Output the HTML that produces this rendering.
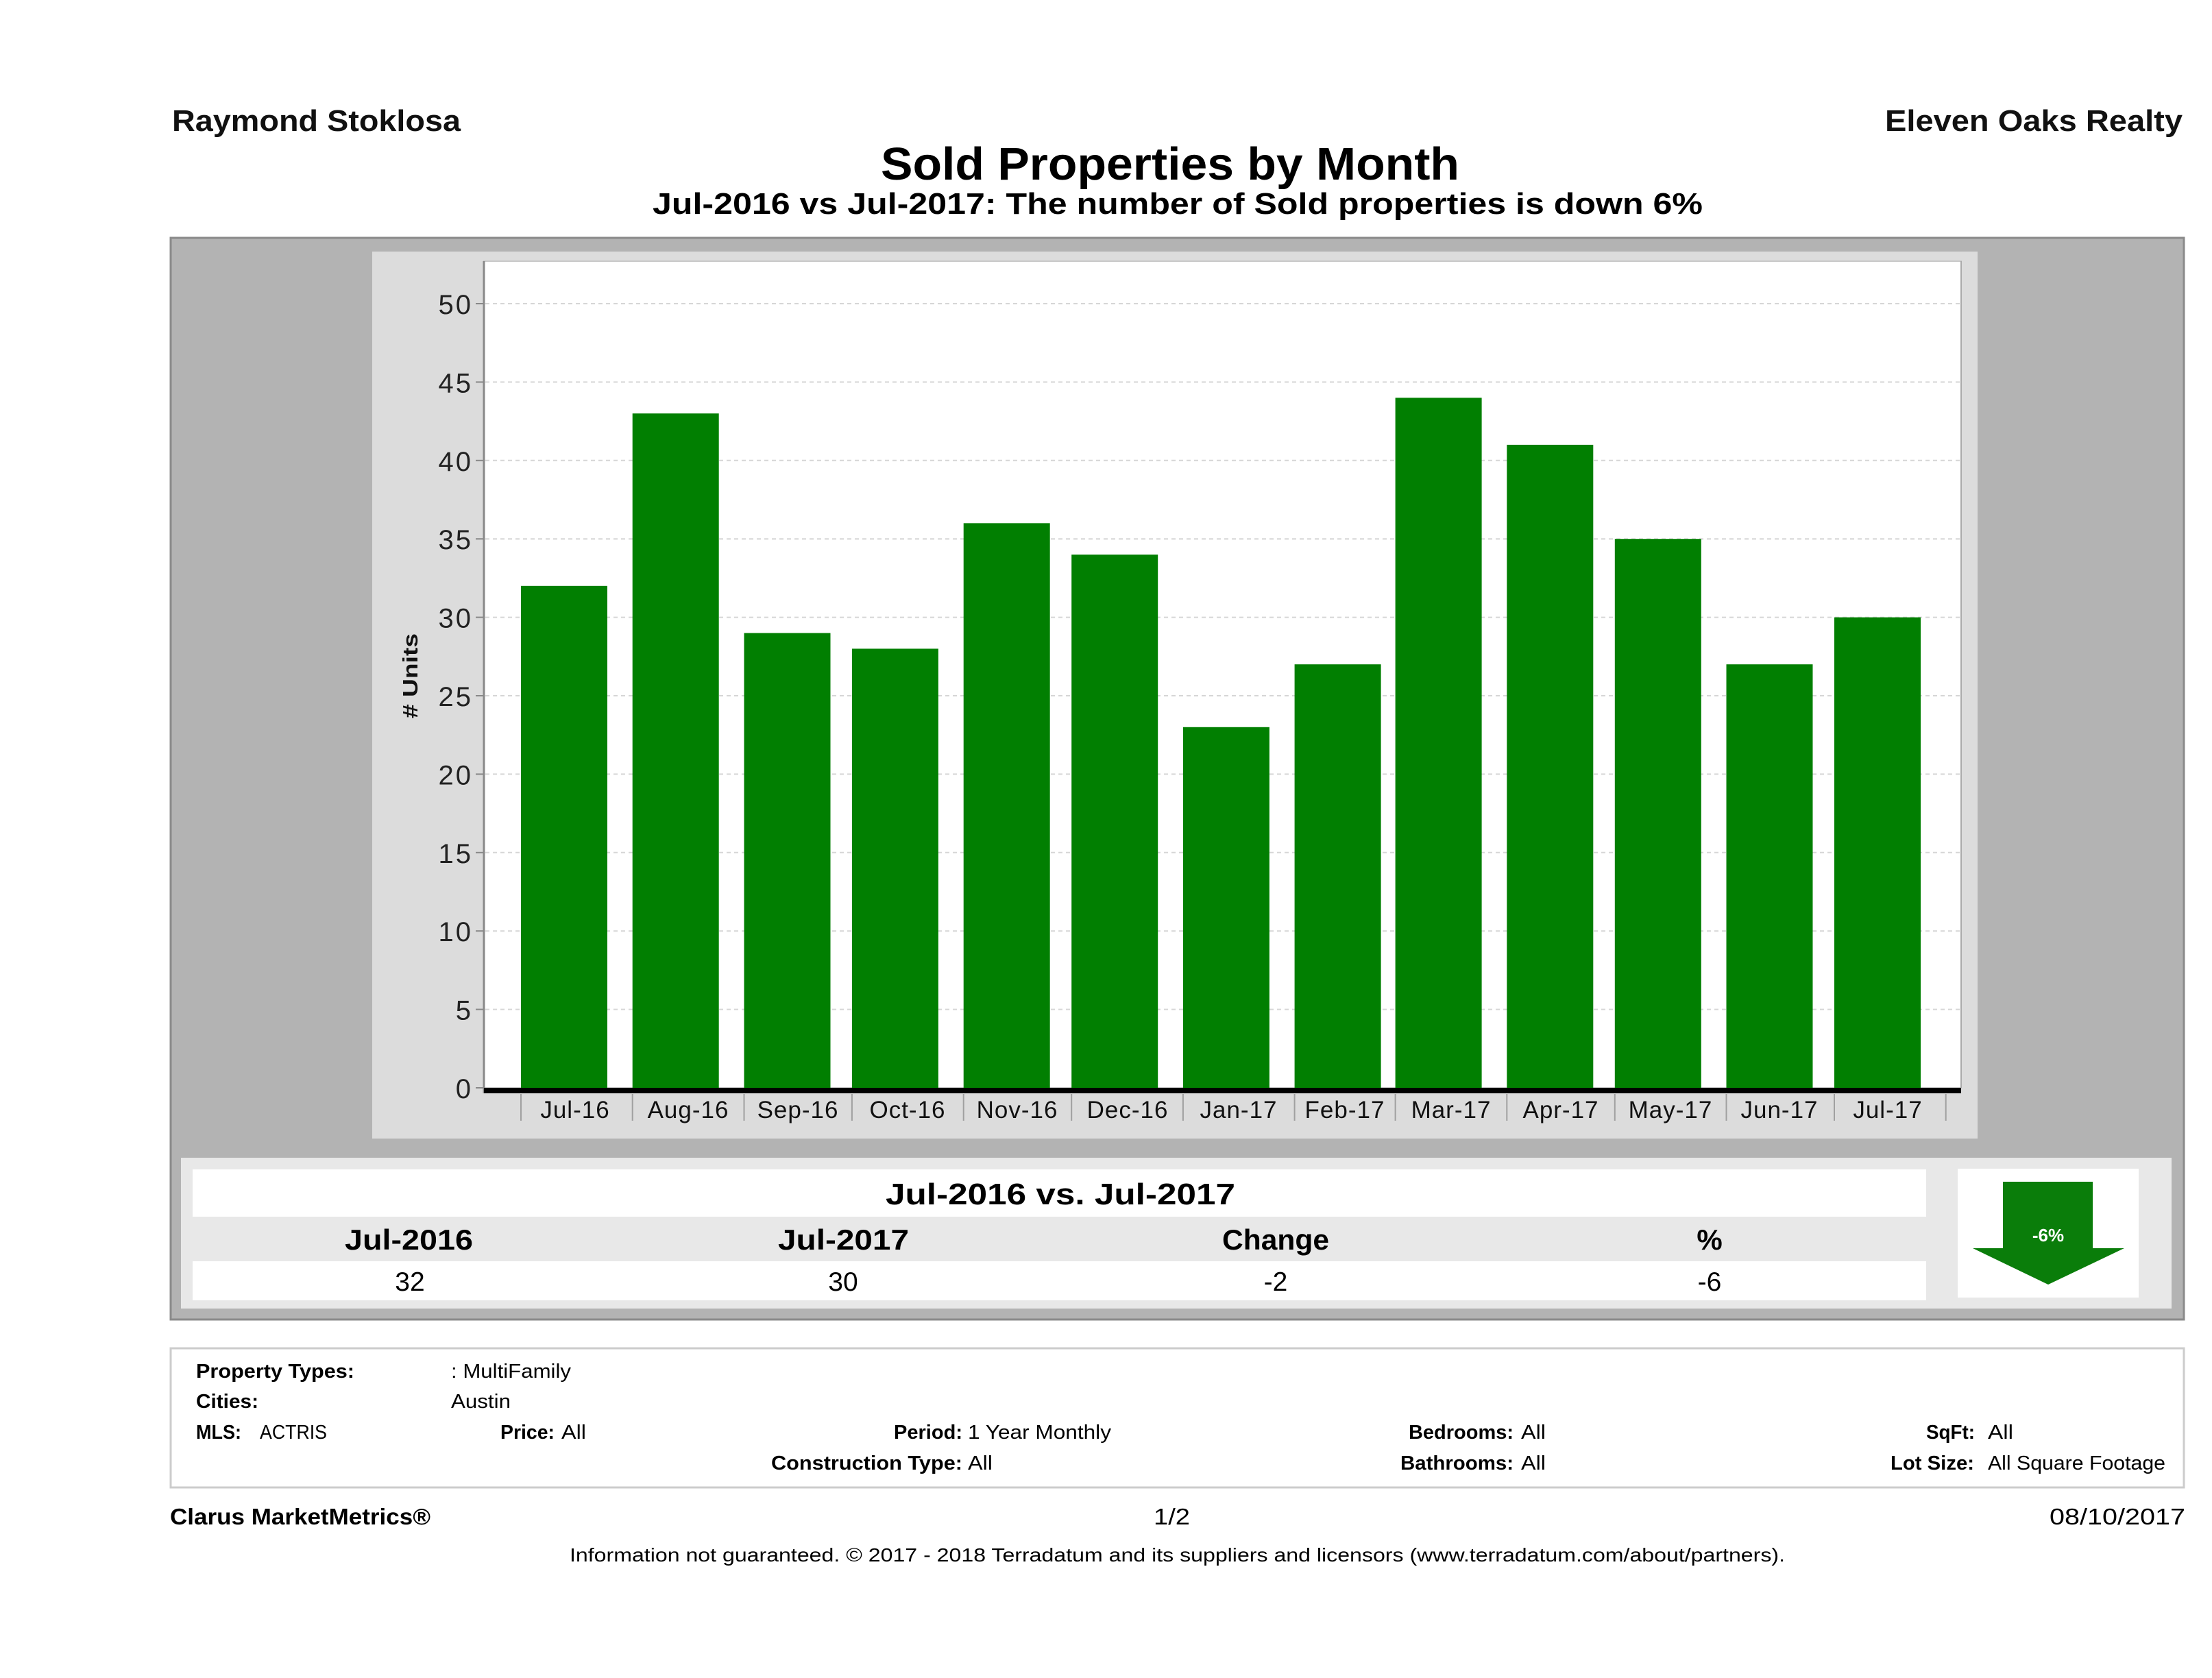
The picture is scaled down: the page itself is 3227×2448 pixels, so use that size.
<!DOCTYPE html>
<html>
<head>
<meta charset="utf-8">
<style>
html,body{margin:0;padding:0;background:#fff;}
svg{display:block;}
text{font-family:"Liberation Sans",Arial,sans-serif;}
</style>
</head>
<body>
<svg width="3227" height="2448" viewBox="0 0 3227 2448" xmlns="http://www.w3.org/2000/svg">
<rect x="0" y="0" width="3227" height="2448" fill="#ffffff"/>

<!-- Header -->
<text x="251" y="191" font-size="44" font-weight="bold" fill="#111" textLength="421" lengthAdjust="spacingAndGlyphs">Raymond Stoklosa</text>
<text x="2750" y="191" font-size="44" font-weight="bold" fill="#111" textLength="434" lengthAdjust="spacingAndGlyphs">Eleven Oaks Realty</text>
<text x="1285" y="262" font-size="67" font-weight="bold" fill="#000" textLength="844" lengthAdjust="spacingAndGlyphs">Sold Properties by Month</text>
<text x="952" y="312" font-size="44" font-weight="bold" fill="#000" textLength="1532" lengthAdjust="spacingAndGlyphs">Jul-2016 vs Jul-2017: The number of Sold  properties is down 6%</text>

<!-- Outer gray box -->
<rect x="249" y="347" width="2937" height="1578" fill="#b3b3b3" stroke="#8a8a8a" stroke-width="3"/>

<!-- Chart panel -->
<rect x="543" y="367" width="2342" height="1294" fill="#dcdcdc"/>
<!-- Plot area -->
<rect x="706" y="381" width="2155" height="1206" fill="#ffffff" stroke="#c8c8c8" stroke-width="2"/>

<!-- Gridlines -->
<g stroke="#d6d6d6" stroke-width="2" stroke-dasharray="6,5">
<line x1="708" y1="443" x2="2860" y2="443"/>
<line x1="708" y1="557.4" x2="2860" y2="557.4"/>
<line x1="708" y1="671.8" x2="2860" y2="671.8"/>
<line x1="708" y1="786.2" x2="2860" y2="786.2"/>
<line x1="708" y1="900.6" x2="2860" y2="900.6"/>
<line x1="708" y1="1015" x2="2860" y2="1015"/>
<line x1="708" y1="1129.4" x2="2860" y2="1129.4"/>
<line x1="708" y1="1243.8" x2="2860" y2="1243.8"/>
<line x1="708" y1="1358.2" x2="2860" y2="1358.2"/>
<line x1="708" y1="1472.6" x2="2860" y2="1472.6"/>
</g>

<!-- Y ticks -->
<g stroke="#888" stroke-width="2">
<line x1="694" y1="443" x2="706" y2="443"/>
<line x1="694" y1="557.4" x2="706" y2="557.4"/>
<line x1="694" y1="671.8" x2="706" y2="671.8"/>
<line x1="694" y1="786.2" x2="706" y2="786.2"/>
<line x1="694" y1="900.6" x2="706" y2="900.6"/>
<line x1="694" y1="1015" x2="706" y2="1015"/>
<line x1="694" y1="1129.4" x2="706" y2="1129.4"/>
<line x1="694" y1="1243.8" x2="706" y2="1243.8"/>
<line x1="694" y1="1358.2" x2="706" y2="1358.2"/>
<line x1="694" y1="1472.6" x2="706" y2="1472.6"/>
<line x1="694" y1="1587" x2="706" y2="1587"/>
</g>

<!-- Y labels -->
<g font-size="40" fill="#222" text-anchor="end" letter-spacing="3">
<text x="690" y="458">50</text>
<text x="690" y="572.4">45</text>
<text x="690" y="686.8">40</text>
<text x="690" y="801.2">35</text>
<text x="690" y="915.6">30</text>
<text x="690" y="1030">25</text>
<text x="690" y="1144.4">20</text>
<text x="690" y="1258.8">15</text>
<text x="690" y="1373.2">10</text>
<text x="690" y="1487.6">5</text>
<text x="690" y="1602">0</text>
</g>

<!-- Y axis title -->
<text transform="translate(609,986) rotate(-90)" text-anchor="middle" font-size="31" font-weight="bold" fill="#111" textLength="124" lengthAdjust="spacingAndGlyphs"># Units</text>

<!-- Bars -->
<g fill="#017f01">
<rect x="760" y="854.8" width="126" height="732.2"/>
<rect x="922.7" y="603.2" width="126" height="983.8"/>
<rect x="1085.5" y="923.5" width="126" height="663.5"/>
<rect x="1242.9" y="946.4" width="126" height="640.6"/>
<rect x="1405.7" y="763.3" width="126" height="823.7"/>
<rect x="1563.2" y="809.1" width="126" height="777.9"/>
<rect x="1725.9" y="1060.8" width="126" height="526.2"/>
<rect x="1888.6" y="969.2" width="126" height="617.8"/>
<rect x="2035.6" y="580.3" width="126" height="1006.7"/>
<rect x="2198.3" y="648.9" width="126" height="938.1"/>
<rect x="2355.8" y="786.2" width="126" height="800.8"/>
<rect x="2518.5" y="969.2" width="126" height="617.8"/>
<rect x="2676" y="900.6" width="126" height="686.4"/>
</g>

<!-- Left axis line -->
<line x1="706" y1="381" x2="706" y2="1595" stroke="#888" stroke-width="3"/>
<!-- Right border -->
<line x1="2861" y1="381" x2="2861" y2="1587" stroke="#aaa" stroke-width="2"/>
<!-- X axis (thick black) -->
<rect x="706" y="1587" width="2155" height="8" fill="#000"/>

<!-- X ticks -->
<g stroke="#a0a0a0" stroke-width="2">
<line x1="760" y1="1596" x2="760" y2="1635"/>
<line x1="922.7" y1="1596" x2="922.7" y2="1635"/>
<line x1="1085.5" y1="1596" x2="1085.5" y2="1635"/>
<line x1="1242.9" y1="1596" x2="1242.9" y2="1635"/>
<line x1="1405.7" y1="1596" x2="1405.7" y2="1635"/>
<line x1="1563.2" y1="1596" x2="1563.2" y2="1635"/>
<line x1="1725.9" y1="1596" x2="1725.9" y2="1635"/>
<line x1="1888.6" y1="1596" x2="1888.6" y2="1635"/>
<line x1="2035.6" y1="1596" x2="2035.6" y2="1635"/>
<line x1="2198.3" y1="1596" x2="2198.3" y2="1635"/>
<line x1="2355.8" y1="1596" x2="2355.8" y2="1635"/>
<line x1="2518.5" y1="1596" x2="2518.5" y2="1635"/>
<line x1="2676" y1="1596" x2="2676" y2="1635"/>
<line x1="2838.7" y1="1596" x2="2838.7" y2="1635"/>
</g>

<!-- X labels -->
<g font-size="35" fill="#111" text-anchor="middle" letter-spacing="1">
<text x="839" y="1631">Jul-16</text>
<text x="1004" y="1631">Aug-16</text>
<text x="1164" y="1631">Sep-16</text>
<text x="1324" y="1631">Oct-16</text>
<text x="1484" y="1631">Nov-16</text>
<text x="1645" y="1631">Dec-16</text>
<text x="1807" y="1631">Jan-17</text>
<text x="1962" y="1631">Feb-17</text>
<text x="2117" y="1631">Mar-17</text>
<text x="2277" y="1631">Apr-17</text>
<text x="2437" y="1631">May-17</text>
<text x="2596" y="1631">Jun-17</text>
<text x="2754" y="1631">Jul-17</text>
</g>

<!-- Summary panel -->
<rect x="264" y="1689" width="2904" height="220" fill="#e8e8e8"/>
<rect x="281" y="1706" width="2529" height="69" fill="#ffffff"/>
<rect x="281" y="1775" width="2529" height="65" fill="#e8e8e8"/>
<rect x="281" y="1840" width="2529" height="57" fill="#ffffff"/>

<text x="1292" y="1757" font-size="44" font-weight="bold" fill="#000" textLength="510" lengthAdjust="spacingAndGlyphs">Jul-2016 vs. Jul-2017</text>

<g font-size="42" font-weight="bold" fill="#000">
<text x="503" y="1823" textLength="187" lengthAdjust="spacingAndGlyphs">Jul-2016</text>
<text x="1135" y="1823" textLength="191" lengthAdjust="spacingAndGlyphs">Jul-2017</text>
<text x="1783" y="1823" textLength="156" lengthAdjust="spacingAndGlyphs">Change</text>
<text x="2494" y="1823" text-anchor="middle">%</text>
</g>
<g font-size="39" fill="#000" text-anchor="middle">
<text x="598" y="1883">32</text>
<text x="1230" y="1883">30</text>
<text x="1861" y="1883">-2</text>
<text x="2494" y="1883">-6</text>
</g>

<!-- Arrow box -->
<rect x="2856" y="1705" width="264" height="188" fill="#ffffff"/>
<polygon points="2922,1724 3053,1724 3053,1821 3099,1821 2988,1874 2878,1821 2922,1821" fill="#0a7d0a"/>
<text x="2988" y="1811" font-size="26" font-weight="bold" fill="#ffffff" text-anchor="middle">-6%</text>

<!-- Info box -->
<rect x="249" y="1967" width="2937" height="203" fill="#ffffff" stroke="#cccccc" stroke-width="3"/>
<g font-size="29" fill="#000">
<text x="286" y="2010" font-weight="bold" textLength="231" lengthAdjust="spacingAndGlyphs">Property Types:</text>
<text x="658" y="2010" textLength="175" lengthAdjust="spacingAndGlyphs">: MultiFamily</text>
<text x="286" y="2054" font-weight="bold" textLength="91" lengthAdjust="spacingAndGlyphs">Cities:</text>
<text x="658" y="2054" textLength="87" lengthAdjust="spacingAndGlyphs">Austin</text>
<text x="286" y="2099" font-weight="bold" textLength="66" lengthAdjust="spacingAndGlyphs">MLS:</text>
<text x="379" y="2099" textLength="98" lengthAdjust="spacingAndGlyphs">ACTRIS</text>
<text x="730" y="2099" font-weight="bold" textLength="79" lengthAdjust="spacingAndGlyphs">Price:</text>
<text x="819" y="2099" textLength="36" lengthAdjust="spacingAndGlyphs">All</text>
<text x="1304" y="2099" font-weight="bold" textLength="100" lengthAdjust="spacingAndGlyphs">Period:</text>
<text x="1412" y="2099" textLength="209" lengthAdjust="spacingAndGlyphs">1 Year Monthly</text>
<text x="1125" y="2144" font-weight="bold" textLength="279" lengthAdjust="spacingAndGlyphs">Construction Type:</text>
<text x="1412" y="2144" textLength="36" lengthAdjust="spacingAndGlyphs">All</text>
<text x="2055" y="2099" font-weight="bold" textLength="153" lengthAdjust="spacingAndGlyphs">Bedrooms:</text>
<text x="2219" y="2099" textLength="36" lengthAdjust="spacingAndGlyphs">All</text>
<text x="2043" y="2144" font-weight="bold" textLength="165" lengthAdjust="spacingAndGlyphs">Bathrooms:</text>
<text x="2219" y="2144" textLength="36" lengthAdjust="spacingAndGlyphs">All</text>
<text x="2810" y="2099" font-weight="bold" textLength="71" lengthAdjust="spacingAndGlyphs">SqFt:</text>
<text x="2900" y="2099" textLength="37" lengthAdjust="spacingAndGlyphs">All</text>
<text x="2758" y="2144" font-weight="bold" textLength="122" lengthAdjust="spacingAndGlyphs">Lot Size:</text>
<text x="2900" y="2144" textLength="259" lengthAdjust="spacingAndGlyphs">All Square Footage</text>
</g>

<!-- Footer -->
<text x="248" y="2224" font-size="33" font-weight="bold" fill="#000" textLength="380" lengthAdjust="spacingAndGlyphs">Clarus MarketMetrics®</text>
<text x="1683" y="2224" font-size="33" fill="#000" textLength="53" lengthAdjust="spacingAndGlyphs">1/2</text>
<text x="2990" y="2224" font-size="33" fill="#000" textLength="198" lengthAdjust="spacingAndGlyphs">08/10/2017</text>
<text x="831" y="2278" font-size="28" fill="#000" textLength="1773" lengthAdjust="spacingAndGlyphs">Information not guaranteed. © 2017 - 2018 Terradatum and its suppliers and licensors (www.terradatum.com/about/partners).</text>
</svg>
</body>
</html>
